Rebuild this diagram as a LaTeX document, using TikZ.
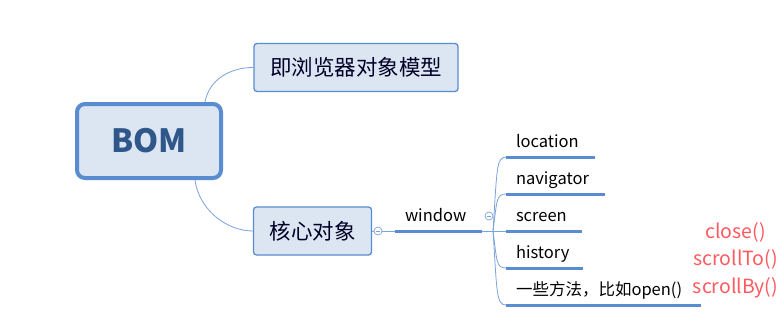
\documentclass[tikz,border=0pt]{standalone}
\usepackage{fontspec}
\setmainfont{Noto Sans CJK SC}
\usetikzlibrary{backgrounds, positioning}

\definecolor{boxfill}{HTML}{DCE6F2}
\definecolor{boxline}{HTML}{5A8CD2}
\definecolor{twigline}{HTML}{7BA3DC}
\definecolor{bomtext}{HTML}{2F5789}
\definecolor{methodred}{HTML}{FF5A5F}

\begin{document}
\begin{tikzpicture}[
            x=1pt, y=-1pt,
            background rectangle/.style={fill=white},
            show background rectangle,
            root/.style={draw=boxline, line width=4pt, fill=boxfill, rounded corners=8pt,
                minimum width=144pt, minimum height=74pt, inner sep=0pt,
                text=bomtext, font=\fontsize{32}{36}\selectfont\bfseries},
            topic/.style={draw=boxline, line width=1.3pt, fill=boxfill, rounded corners=3pt,
                minimum height=48pt, inner xsep=16pt, text=black!85!blue,
                font=\fontsize{21.5}{24}\selectfont},
            leaf/.style={anchor=south west, inner xsep=10pt, inner ysep=6pt, outer sep=0pt,
                text height=12pt, text depth=4pt, text width=#1, align=left,
                font=\fontsize{16.5}{20}\selectfont},
            uline/.style={draw=boxline, line width=3pt},
            twig/.style={draw=twigline, line width=0.8pt},
            knob/.style={draw=twigline, fill=white, circle, minimum size=8pt, inner sep=0pt,
                line width=0.7pt,
                path picture={\draw[twigline, line width=0.6pt]
                    ([xshift=-2.2pt]path picture bounding box.center) --
                    ([xshift=2.2pt]path picture bounding box.center);}}
        ]

        \useasboundingbox (0,0) rectangle (778,332);

        \node[root] (bom) at (149,141) {BOM};
        \node[topic] (model) at (356,67.5) {即浏览器对象模型};
        \node[topic] (core) at (312.5,231) {核心对象};

        \node[knob] (knob1) at (378,231) {};
        \node[leaf=67pt] (win) at (395,231) {window};
        \node[knob] (knob2) at (489,216) {};
        \coordinate (fork) at (493,231);

        \node[leaf=69pt] (loc) at (506,157) {location};
        \node[leaf=79pt] (nav) at (506,194) {navigator};
        \node[leaf=56pt] (scr) at (506,231) {screen};
        \node[leaf=57pt] (his) at (506,268) {history};
        \node[leaf=175pt] (fun) at (506,305) {一些方法，比如open()};

        \node[text=methodred, align=center, inner sep=0pt,
            font=\fontsize{19.5}{27.5}\selectfont] (methods) at (735.5,260)
            {close()\\scrollTo()\\scrollBy()};

        \path[twig] ([xshift=-18pt]bom.north east) edge[to path={.. controls +(4,-22) and +(-24,0) .. (\tikztotarget)}] (model.west);
        \path[twig] ([xshift=-28pt]bom.south east) edge[to path={.. controls +(4,30) and +(-26,0) .. (\tikztotarget)}] (core.west);

        \path[twig] (core.east) edge (knob1.west);
        \path[twig] (knob1.east) edge (win.south west);
        \path[twig] (win.south east) edge (fork);

        \path[twig] (fork) edge[to path={.. controls +(4,-60) and +(-10,0) .. (\tikztotarget)}] (loc.south west);
        \path[twig] (fork) edge[to path={.. controls +(4,-30) and +(-10,0) .. (\tikztotarget)}] (nav.south west);
        \path[twig] (fork) edge (scr.south west);
        \path[twig] (fork) edge[to path={.. controls +(4,30) and +(-10,0) .. (\tikztotarget)}] (his.south west);
        \path[twig] (fork) edge[to path={.. controls +(4,60) and +(-10,0) .. (\tikztotarget)}] (fun.south west);

        \foreach \n in {win, loc, nav, scr, his, fun}
            \draw[uline] (\n.south west) -- (\n.south east);

    \end{tikzpicture}
\end{document}
